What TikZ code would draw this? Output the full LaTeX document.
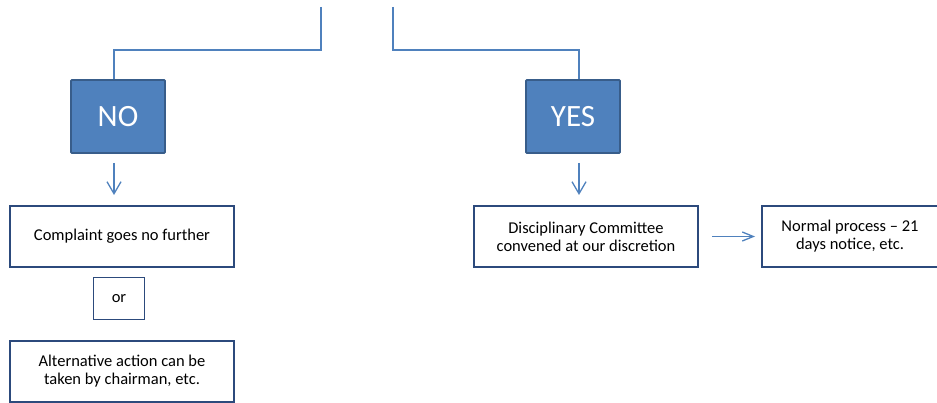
\documentclass[tikz,border=0pt]{standalone}
\usepackage{fontspec}
\setmainfont{Carlito}
\usetikzlibrary{arrows.meta}
\definecolor{boxblue}{HTML}{4F81BD}
\definecolor{boxedge}{HTML}{385D8A}
\definecolor{lineblue}{HTML}{4F81BD}
\definecolor{navy}{HTML}{2C4A7C}
\tikzstyle{bluebox} = [draw=boxedge, fill=boxblue, line width=1.8pt, rounded corners=1pt, text=white, minimum width=94pt, minimum height=73pt, font=\fontsize{31}{36}\selectfont]
\tikzstyle{whitebox} = [draw=navy, line width=2pt, fill=white, align=center, minimum width=224pt, minimum height=61pt, font=\fontsize{16.5}{18}\selectfont]
\tikzstyle{orbox} = [draw=navy, line width=1.3pt, minimum width=51pt, minimum height=42pt, font=\fontsize{16.5}{18}\selectfont]
\tikzstyle{line} = [draw=lineblue, line width=1.3pt]
\tikzstyle{arrow} = [line, -{Straight Barb[length=12pt,width=14pt]}]

\begin{document}
\begin{tikzpicture}[x=1pt,y=-1pt]
        \useasboundingbox (0,0) rectangle (937,403);
        % decision boxes
        \node[bluebox] (no) at (118,116.5) {NO};
        \node[bluebox] (yes) at (573,116.5) {YES};
        % outcomes
        \node[whitebox] (complaint) at (122,236.5) {Complaint goes no further};
        \node[orbox] (or) at (119,298.5) {or};
        \node[whitebox] (alternative) at (122,371.5) {Alternative action can be\\taken by chairman, etc.};
        \node[whitebox] (committee) at (586,236.5) {Disciplinary Committee\\convened at our discretion};
        \node[whitebox, minimum width=176pt] (normal) at (850,236.5) {Normal process -- 21\\days notice, etc.};
        % incoming branches
        \coordinate (inL) at (321,7);
        \coordinate (inR) at (393,7);
        \draw[line] (inL) -- ++(0,43) -| ([xshift=-4pt]no.north);
        \draw[line] (inR) -- ++(0,43) -| ([xshift=6pt]yes.north);
        % arrows
        \draw[arrow, shorten <=9pt, shorten >=10pt] ([xshift=-4pt]no.south) -- ([xshift=-4pt]no.south |- complaint.north);
        \draw[arrow, shorten <=9pt, shorten >=10pt] ([xshift=6pt]yes.south) -- ([xshift=6pt]yes.south |- committee.north);
        \draw[arrow, -{Straight Barb[length=11pt,width=9pt]}, shorten <=13pt, shorten >=6pt] (committee) -- (normal);
\end{tikzpicture}
\end{document}
